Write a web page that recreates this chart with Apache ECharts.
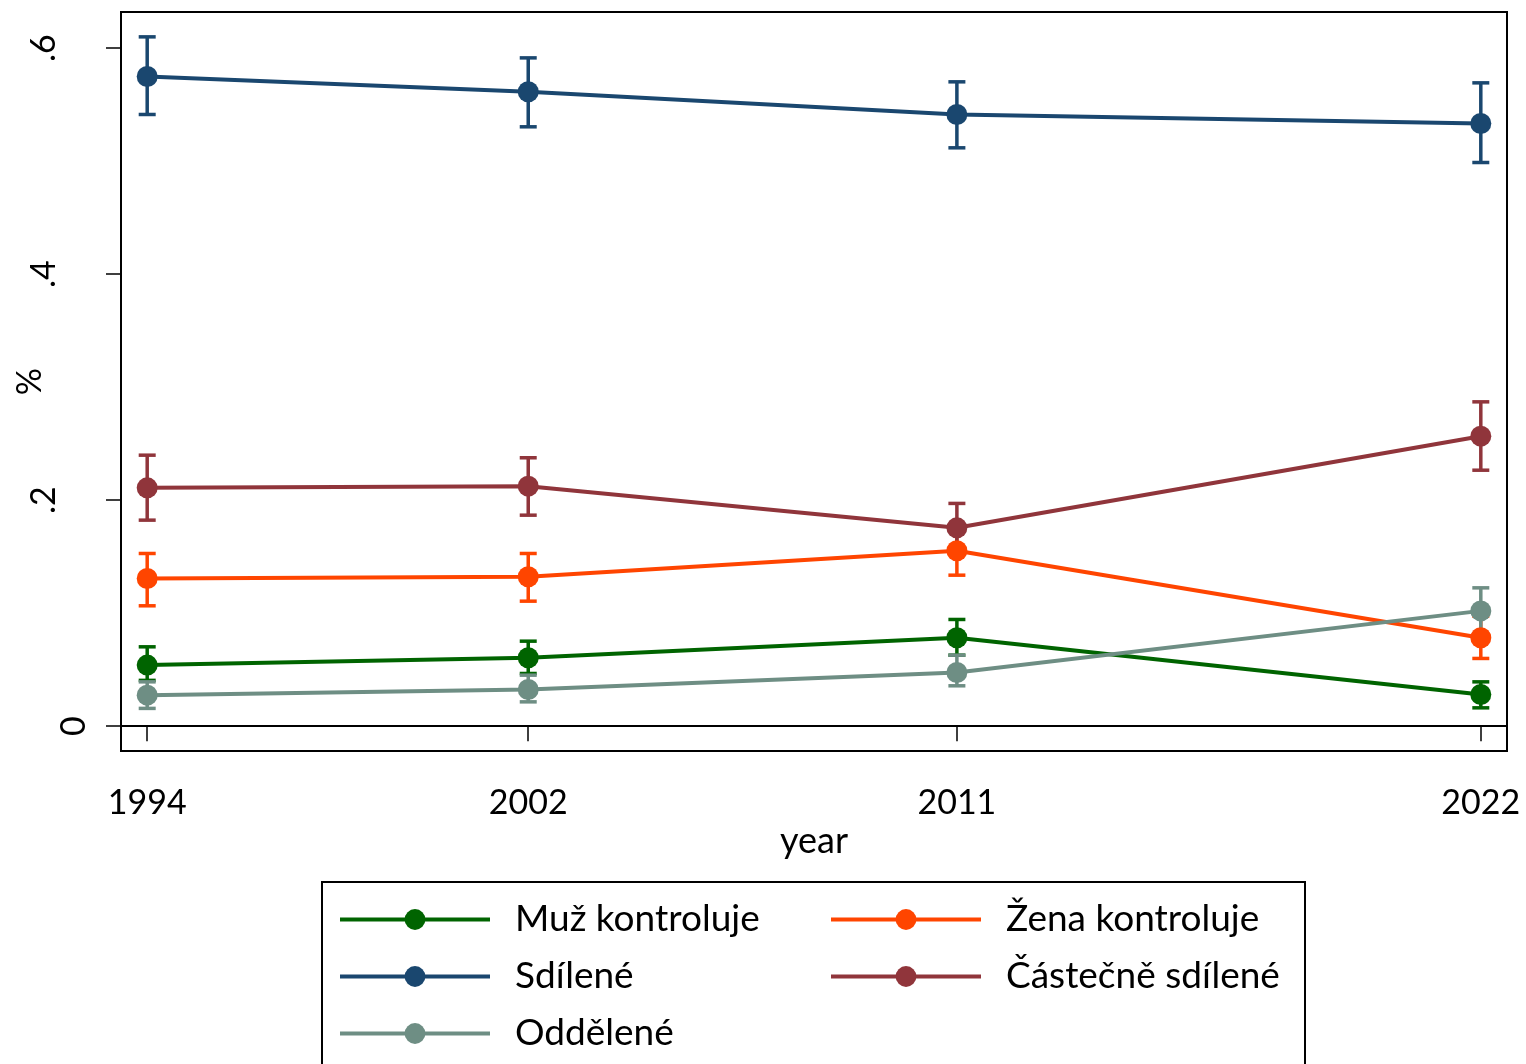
<!DOCTYPE html>
<html>
<head>
<meta charset="utf-8">
<script src="https://cdn.jsdelivr.net/npm/echarts@6/dist/echarts.min.js"></script>
<style>
html,body{margin:0;padding:0;background:#fff;}
#chart{width:1526px;height:1064px;}
</style>
</head>
<body>
<div id="chart"></div>
<script>
// ---- data ----
const years = [1994, 2002, 2011, 2022];
const xTicks = [1994, 2002, 2011, 2022];
const yTicks = [0, 0.2, 0.4, 0.6];
const seriesNames = ['Muž kontroluje', 'Žena kontroluje', 'Sdílené', 'Částečně sdílené', 'Oddělené'];

const muzMean = [0.0540, 0.0605, 0.0782, 0.0280];
const muzLo   = [0.0405, 0.0466, 0.0628, 0.0162];
const muzHi   = [0.0702, 0.0752, 0.0944, 0.0392];

const zenaMean = [0.1307, 0.1322, 0.1552, 0.0782];
const zenaLo   = [0.1065, 0.1106, 0.1336, 0.0599];
const zenaHi   = [0.1528, 0.1528, 0.1735, 0.0973];

const sdilMean = [0.5749, 0.5614, 0.5413, 0.5333];
const sdilLo   = [0.5413, 0.5304, 0.5118, 0.4988];
const sdilHi   = [0.6100, 0.5914, 0.5702, 0.5693];

const castMean = [0.2109, 0.2124, 0.1755, 0.2566];
const castLo   = [0.1823, 0.1867, 0.1558, 0.2265];
const castHi   = [0.2398, 0.2375, 0.1971, 0.2870];

const oddMean = [0.0274, 0.0324, 0.0475, 0.1020];
const oddLo   = [0.0157, 0.0215, 0.0357, 0.0814];
const oddHi   = [0.0392, 0.0451, 0.0628, 0.1224];

const colors = ['#006400', '#ff4500', '#1a476f', '#90353b', '#6e8e84'];

// ---- build ----
const groups = [
  [muzMean, muzLo, muzHi],
  [zenaMean, zenaLo, zenaHi],
  [sdilMean, sdilLo, sdilHi],
  [castMean, castLo, castHi],
  [oddMean, oddLo, oddHi]
];
const FONT = 'Lato';
const series = [];
groups.forEach((g, i) => {
  series.push({
    name: 'ci_' + i,
    type: 'custom',
    z: 2,
    data: years.map((y, k) => [y, g[1][k], g[2][k]]),
    encode: { x: 0, y: [1, 2] },
    renderItem: function (params, api) {
      const x = api.value(0);
      const lo = api.coord([x, api.value(1)]);
      const hi = api.coord([x, api.value(2)]);
      const hw = 8.5;
      const st = { stroke: colors[i], lineWidth: 3.5, fill: null };
      return {
        type: 'group',
        children: [
          { type: 'line', shape: { x1: lo[0], y1: lo[1], x2: hi[0], y2: hi[1] }, style: st },
          { type: 'line', shape: { x1: lo[0] - hw, y1: lo[1], x2: lo[0] + hw, y2: lo[1] }, style: st },
          { type: 'line', shape: { x1: hi[0] - hw, y1: hi[1], x2: hi[0] + hw, y2: hi[1] }, style: st }
        ]
      };
    },
    silent: true
  });
});
groups.forEach((g, i) => {
  series.push({
    name: seriesNames[i],
    type: 'line',
    z: 3,
    data: years.map((y, k) => [y, g[0][k]]),
    symbol: 'circle',
    symbolSize: 21,
    showSymbol: true,
    color: colors[i],
    itemStyle: { color: colors[i] },
    lineStyle: { color: colors[i], width: 4 }
  });
});

const chart = echarts.init(document.getElementById('chart'), null, { renderer: 'canvas' });
chart.setOption({
  animation: false,
  backgroundColor: '#fff',
  textStyle: { fontFamily: FONT },
  grid: {
    left: 121, right: 19, top: 12, bottom: 313,
    show: true, borderColor: '#000', borderWidth: 2,
    outerBoundsMode: 'none', containLabel: false
  },
  xAxis: {
    type: 'value',
    min: 1993.45, max: 2022.55,
    name: 'year', nameLocation: 'middle', nameGap: 72, nameMoveOverlap: false,
    nameTextStyle: { fontSize: 36, color: '#000', fontFamily: FONT },
    axisLine: { show: true, lineStyle: { color: '#000', width: 2 } },
    axisTick: { show: true, length: 15, lineStyle: { color: '#000', width: 1.5 }, customValues: xTicks },
    axisLabel: { fontSize: 34, color: '#000', margin: 35, fontFamily: FONT, customValues: xTicks,
      formatter: v => String(v) },
    splitLine: { show: false }
  },
  yAxis: {
    type: 'value',
    min: -0.022, max: 0.632,
    name: '%', nameLocation: 'middle', nameGap: 74, nameRotate: 90, nameMoveOverlap: false,
    nameTextStyle: { fontSize: 34, color: '#000', fontFamily: FONT },
    axisLine: { show: true, lineStyle: { color: '#000', width: 2 } },
    axisTick: { show: true, length: 15, lineStyle: { color: '#000', width: 1.5 }, customValues: yTicks },
    axisLabel: {
      rotate: 90, margin: 30, customValues: yTicks,
      formatter: v => v === 0 ? '{z|0}' : '{a|' + String(+v.toFixed(1)).replace('0.', '.') + '}',
      rich: {
        z: { fontSize: 34, color: '#000', fontFamily: FONT, lineHeight: 34 },
        a: { fontSize: 34, color: '#000', fontFamily: FONT, lineHeight: 94 }
      }
    },
    splitLine: { show: false }
  },
  legend: {
    data: seriesNames,
    orient: 'horizontal',
    left: 322, top: 882,
    width: 970,
    padding: [19, 5, 30, 16],
    itemGap: 20,
    itemWidth: 150, itemHeight: 26,
    borderColor: '#000', borderWidth: 2,
    selectedMode: false,
    lineStyle: { width: 4 },
    textStyle: { fontSize: 37, color: '#000', fontFamily: FONT, width: 294, lineHeight: 37, padding: [0, 0, 0, 20] }
  },
  series: series
});
</script>
</body>
</html>
